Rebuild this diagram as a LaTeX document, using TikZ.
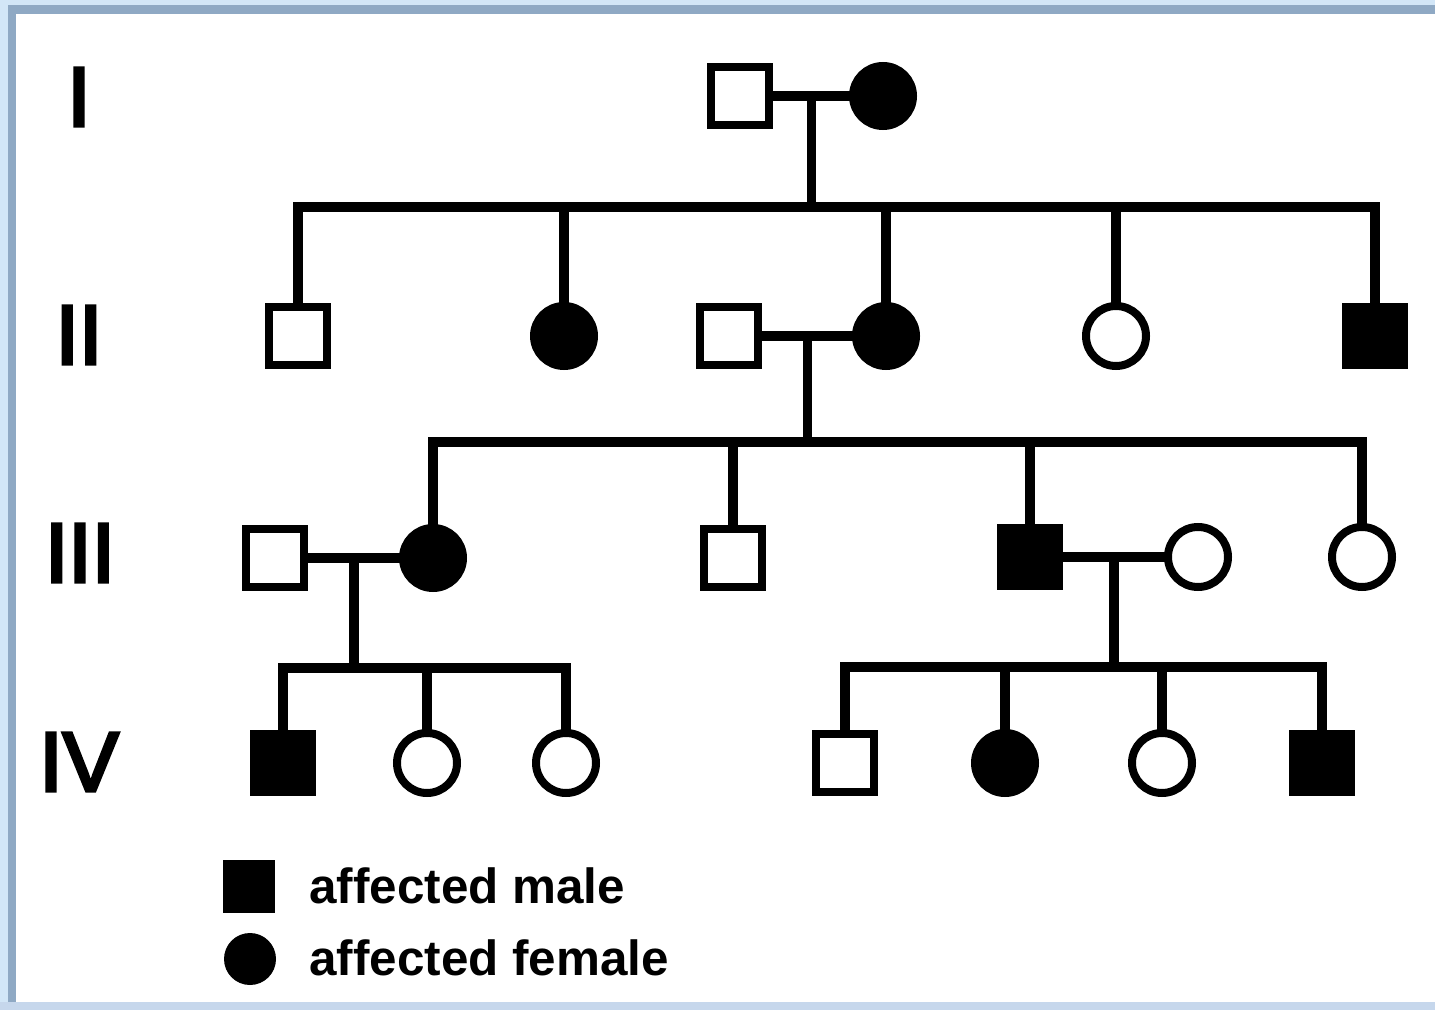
\documentclass[tikz,border=0pt]{standalone}
\usepackage{fontspec}
\setmainfont{Liberation Sans}
\newfontfamily\numfont[FakeBold=4]{Liberation Sans}
\usetikzlibrary{calc}
\definecolor{frameLight}{HTML}{D2E6F7}
\definecolor{frameDark}{HTML}{8FA9C4}
\definecolor{frameBottom}{HTML}{C6D7EC}
\begin{document}
\begin{tikzpicture}[x=0.5pt,y=-0.5pt,
  sym/.style={draw=black, line width=4pt, inner sep=0pt, outer sep=0pt, fill=white},
  male/.style={sym, rectangle, minimum size=29pt},
  female/.style={sym, circle, minimum size=30pt},
  aff/.style={fill=black},
  link/.style={line width=4.8pt, line join=miter},
  gen/.style={font=\fontsize{42}{42}\numfont, inner sep=0pt},
  legtext/.style={font=\fontsize{24.7}{26}\selectfont\bfseries, anchor=base west, inner sep=0pt}]

\useasboundingbox (0,0) rectangle (1435,1010);
\fill[white] (0,0) rectangle (1435,1010);

% window frame
\fill[frameLight] (0,0) rectangle (1435,5);
\fill[frameDark] (0,5) rectangle (1435,14);
\fill[frameLight] (0,0) rectangle (8,1010);
\fill[frameDark] (8,5) rectangle (16,1010);
\fill[frameBottom] (0,1002) rectangle (1435,1010);

% generation numerals
\node[gen] (gI)   at (79,97)  {I};
\node[gen] (gII)  at (79,335) {II};
\node[gen] (gIII) at (80,553) {III};
\node[gen] (gIV)  at (79,762) {IV};

% generation I
\node[male] (I1) at (740,96) {};
\node[female, aff] (I2) at (883,96) {};

% generation II
\node[male] (II1) at (298,336) {};
\node[female, aff] (II2) at (564,336) {};
\node[male] (II3) at (729,336) {};
\node[female, aff] (II4) at (886,336) {};
\node[female] (II5) at (1116,336) {};
\node[male, aff] (II6) at (1375,336) {};

% generation III
\node[male] (III1) at (275,558) {};
\node[female, aff] (III2) at (433,558) {};
\node[male] (III3) at (733,558) {};
\node[male, aff] (III4) at (1030,557) {};
\node[female] (III5) at (1198,557) {};
\node[female] (III6) at (1362,557) {};

% generation IV
\node[male, aff] (IV1) at (283,763) {};
\node[female] (IV2) at (427,763) {};
\node[female] (IV3) at (566,763) {};
\node[male] (IV4) at (845,763) {};
\node[female, aff] (IV5) at (1005,763) {};
\node[female] (IV6) at (1162,763) {};
\node[male, aff] (IV7) at (1322,763) {};

% couples and their sibship lines
\coordinate (m1) at ($(I1)!0.5!(I2)$);
\coordinate (s1) at ($(m1)+(0,111)$);
\draw[link] (I1) -- (I2);
\draw[link] (m1) -- (s1);
\draw[link] (II1.north) -- (II1.north |- s1) -- (II6.north |- s1) -- (II6.north);
\foreach \c in {II2,II4,II5} \draw[link] (\c.north) -- (\c.north |- s1);

\coordinate (m2) at ($(II3)!0.5!(II4)$);
\coordinate (s2) at ($(m2)+(0,106)$);
\draw[link] (II3) -- (II4);
\draw[link] (m2) -- (s2);
\draw[link] (III2.north) -- (III2.north |- s2) -- (III6.north |- s2) -- (III6.north);
\foreach \c in {III3,III4} \draw[link] (\c.north) -- (\c.north |- s2);

\coordinate (m3) at ($(III1)!0.5!(III2)$);
\coordinate (s3) at ($(m3)+(0,110)$);
\draw[link] (III1) -- (III2);
\draw[link] (m3) -- (s3);
\draw[link] (IV1.north) -- (IV1.north |- s3) -- (IV3.north |- s3) -- (IV3.north);
\draw[link] (IV2.north) -- (IV2.north |- s3);

\coordinate (m4) at ($(III4)!0.5!(III5)$);
\coordinate (s4) at ($(m4)+(0,110)$);
\draw[link] (III4) -- (III5);
\draw[link] (m4) -- (s4);
\draw[link] (IV4.north) -- (IV4.north |- s4) -- (IV7.north |- s4) -- (IV7.north);
\foreach \c in {IV5,IV6} \draw[link] (\c.north) -- (\c.north |- s4);

% legend
\node[fill=black, inner sep=0pt, minimum width=26pt, minimum height=26.5pt] (lm) at (249,886) {};
\node[fill=black, circle, inner sep=0pt, minimum size=26pt] (lf) at (250,959) {};
\node[legtext] (lmt) at (309,903) {affected male};
\node[legtext] (lft) at (309,975) {affected female};
\end{tikzpicture}
\end{document}
